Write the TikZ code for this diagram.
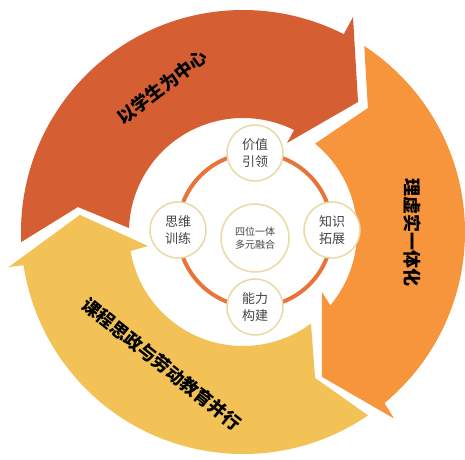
\documentclass[tikz,border=0pt]{standalone}
\usepackage{fontspec}
\setmainfont{Noto Sans CJK SC}
\usetikzlibrary{calc}
\definecolor{arrRed}{HTML}{D55E32}
\definecolor{arrOrange}{HTML}{F7953D}
\definecolor{arrYellow}{HTML}{F3C256}
\definecolor{ringOrange}{HTML}{E8743A}
\definecolor{circEdge}{HTML}{EAD9A4}
\definecolor{lblGray}{HTML}{454545}
\begin{document}
\begin{tikzpicture}[x=1pt,y=1pt,
  bubble/.style={circle, draw=circEdge, line width=1.5pt, fill=white, minimum size=56pt, inner sep=0pt, text=lblGray, font=\fontsize{13}{17}\selectfont, align=center},
  hub/.style={bubble, minimum size=68pt, font=\fontsize{10}{12.5}\selectfont},
  arrowlabel/.style={font=\fontsize{18}{18}\selectfont\bfseries, text=black, inner sep=0pt}]
\useasboundingbox (0,0) rectangle (465,459);
\begin{scope}[shift={(243,227)}]
\fill[arrRed] (182.6:222pt) arc[start angle=182.6, end angle=63, radius=222pt]
  -- (62.9:241.5pt) -- (48.5:173.6pt) -- (63.7:99.3pt) -- (63.4:114pt)
  arc[start angle=63.4, end angle=178, radius=114pt] -- (171.4:167pt) -- cycle;
\fill[arrOrange] (56.9:222pt) arc[start angle=56.9, end angle=-50.4, radius=222pt]
  -- (-51:240pt) -- (-61.4:165pt) -- (-37.2:99pt) -- (-40:114pt)
  arc[start angle=-40, end angle=50.8, radius=114pt] -- (44.8:176pt) -- cycle;
\fill[arrYellow] (-55.7:222pt) arc[start angle=-55.7, end angle=-171.4, radius=222pt]
  -- (-171.5:237pt) -- (-186:164pt) -- (-171.6:96pt) -- (-170.4:114pt)
  arc[start angle=-170.4, end angle=-53.4, radius=114pt] -- (-63.7:162.8pt) -- cycle;
\end{scope}
\node[arrowlabel, rotate=37] (lblA) at (162,372) {以学生为中心};
\node[arrowlabel, rotate=-90] (lblB) at (412,227) {理虚实一体化};
\node[arrowlabel, rotate=-38.7] (lblC) at (162,95) {课程思政与劳动教育并行};
\coordinate (rc) at (255,229);
\draw[ringOrange, line width=4pt] (rc) circle[radius=77pt];
\node[bubble] (top) at (255,306) {价值\\引领};
\node[bubble] (left) at (178,229) {思维\\训练};
\node[bubble] (right) at (332,229) {知识\\拓展};
\node[bubble] (bottom) at (255,152) {能力\\构建};
\node[hub] (hub) at (255,221) {四位一体\\多元融合};
\end{tikzpicture}
\end{document}
